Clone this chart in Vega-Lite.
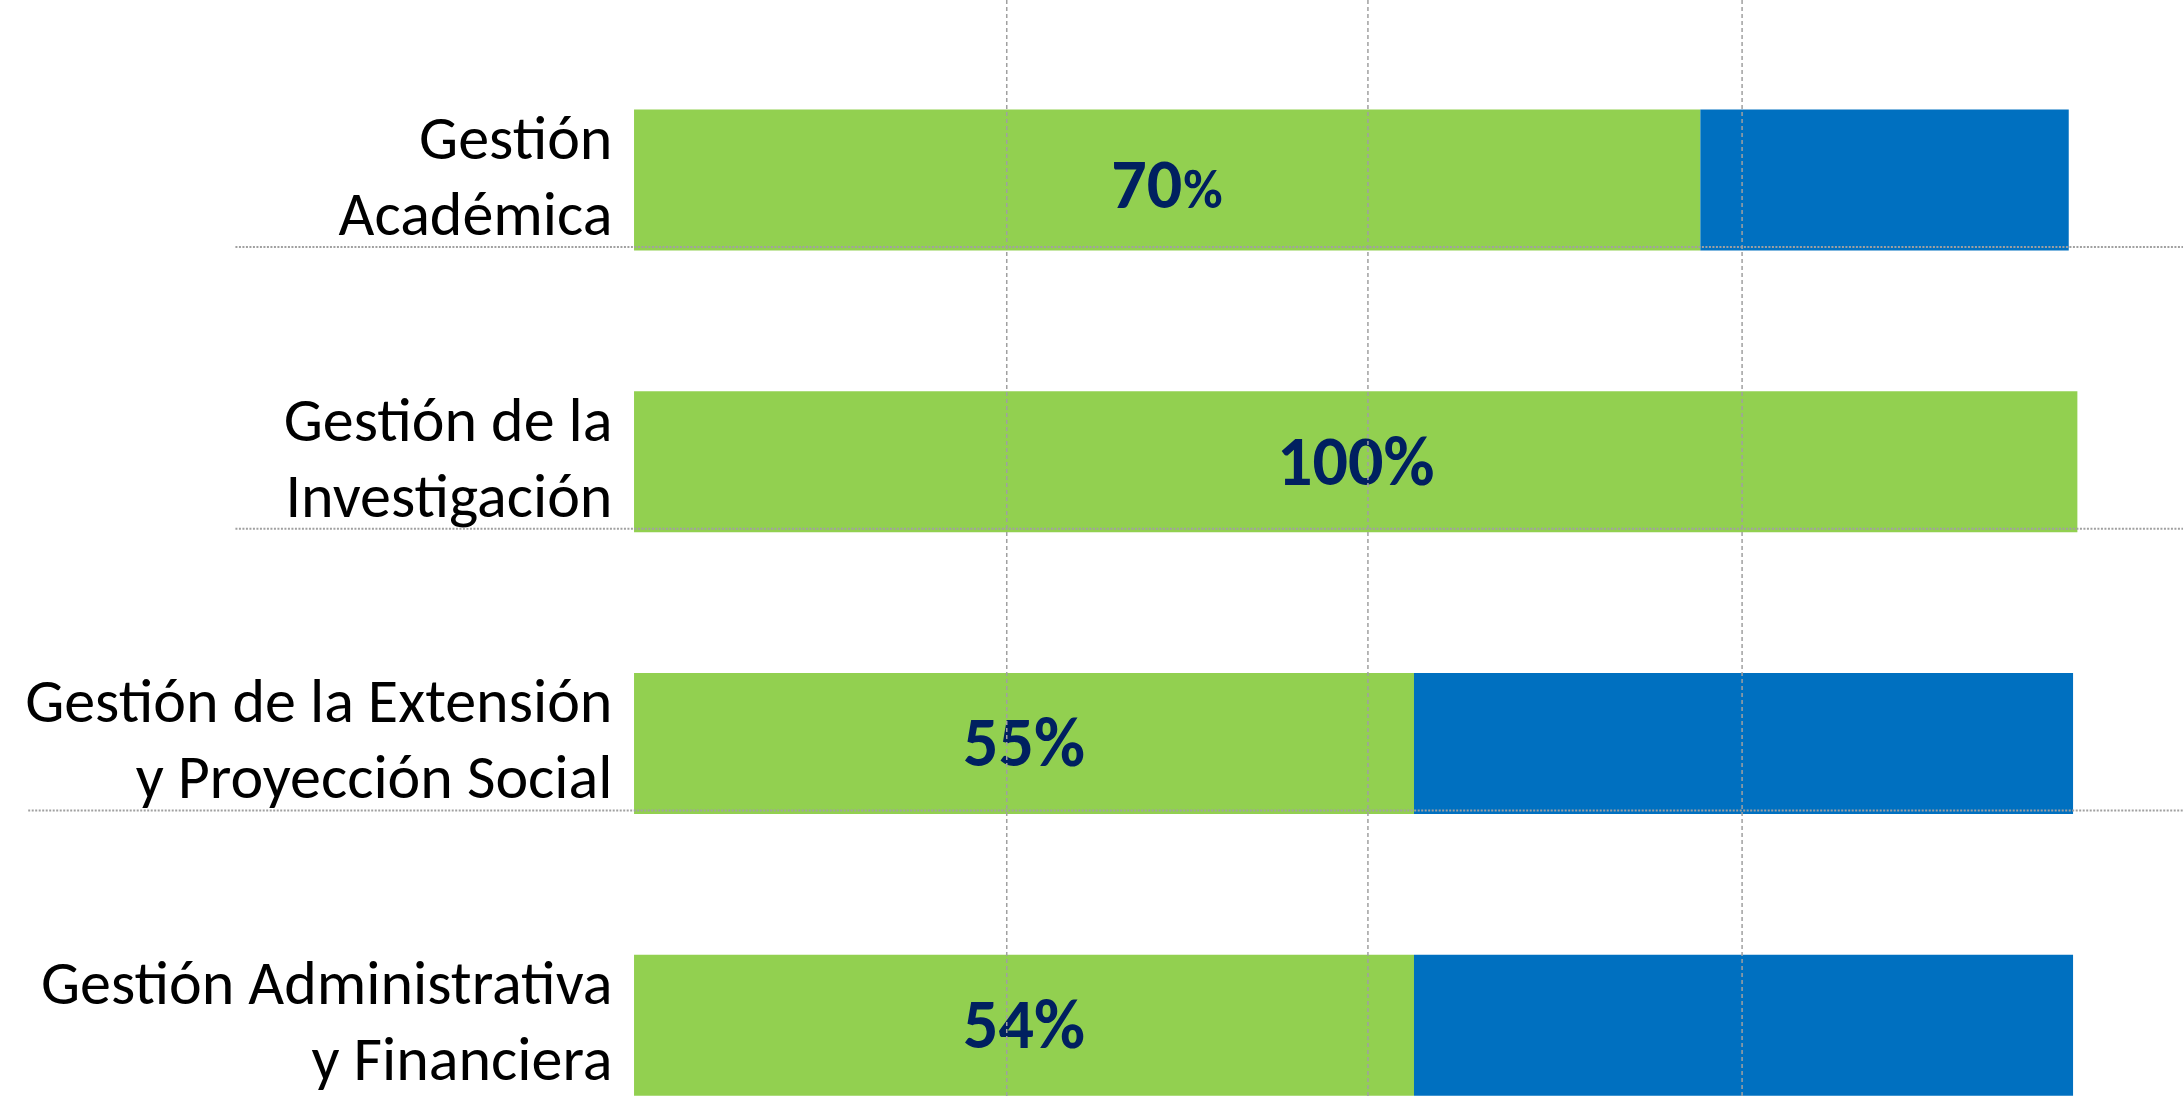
{
  "$schema": "https://vega.github.io/schema/vega-lite/v6.json",
  "width": 2183,
  "height": 1098,
  "padding": 0,
  "autosize": "none",
  "background": "white",
  "config": {"view": {"stroke": null}},
  "datasets": {
    "bars": [
      {"cat": "Gestión Académica", "estado": "Cumplido", "pct": 74.1},
      {"cat": "Gestión Académica", "estado": "Pendiente", "pct": 25.6},
      {"cat": "Gestión de la Investigación", "estado": "Cumplido", "pct": 100.3},
      {"cat": "Gestión de la Investigación", "estado": "Pendiente", "pct": 0},
      {"cat": "Gestión de la Extensión y Proyección Social", "estado": "Cumplido", "pct": 54.2},
      {"cat": "Gestión de la Extensión y Proyección Social", "estado": "Pendiente", "pct": 45.8},
      {"cat": "Gestión Administrativa y Financiera", "estado": "Cumplido", "pct": 54.2},
      {"cat": "Gestión Administrativa y Financiera", "estado": "Pendiente", "pct": 45.8}
    ],
    "rows": [
      {"cat": "Gestión Académica", "lines": ["Gestión", "Académica"], "label": "70%", "num": "70", "green": 74.1},
      {"cat": "Gestión de la Investigación", "lines": ["Gestión de la", "Investigación"], "label": "100%", "num": "100", "green": 100.3},
      {"cat": "Gestión de la Extensión y Proyección Social", "lines": ["Gestión de la Extensión", "y Proyección Social"], "label": "55%", "num": "55", "green": 54.2},
      {"cat": "Gestión Administrativa y Financiera", "lines": ["Gestión Administrativa", "y Financiera"], "label": "54%", "num": "54", "green": 54.2}
    ],
    "grid": [{"g": 25.9}, {"g": 51.0}, {"g": 77.0}],
    "seps": [
      {"cat": "Gestión Académica", "from": -27.7},
      {"cat": "Gestión de la Investigación", "from": -27.7},
      {"cat": "Gestión de la Extensión y Proyección Social", "from": -42.1}
    ]
  },
  "resolve": {"scale": {"x": "shared", "y": "shared"}},
  "layer": [
    {
      "data": {"name": "bars"},
      "mark": {"type": "bar", "orient": "horizontal"},
      "encoding": {
        "y": {"field": "cat", "type": "nominal", "axis": null, "sort": null,
              "scale": {"domain": ["Gestión Académica", "Gestión de la Investigación", "Gestión de la Extensión y Proyección Social", "Gestión Administrativa y Financiera"], "paddingInner": 0.4995, "paddingOuter": 0.1987, "align": 0.979}},
        "x": {"field": "pct", "type": "quantitative", "stack": "zero", "axis": null,
              "scale": {"domain": [-44.06, 107.64], "nice": false, "zero": false}},
        "color": {"field": "estado", "type": "nominal", "legend": null,
                  "scale": {"domain": ["Cumplido", "Pendiente"], "range": ["#92D050", "#0070C0"]}},
        "order": {"field": "estado", "sort": "ascending"}
      }
    },
    {
      "data": {"name": "rows"},
      "transform": [
        {"filter": "datum.label != '70%'"},
        {"stack": "green", "groupby": ["cat"], "as": ["g0", "g1"]},
        {"fold": ["g0", "g1"], "as": ["k", "v"]}
      ],
      "mark": {"type": "text", "align": "center", "baseline": "middle", "font": "Carlito, Lato", "fontWeight": "bold", "fontSize": 70, "color": "#002060", "dy": 2},
      "encoding": {
        "y": {"field": "cat", "type": "nominal"},
        "x": {"aggregate": "mean", "field": "v", "type": "quantitative"},
        "text": {"field": "label", "type": "nominal"}
      }
    },
    {
      "data": {"name": "rows"},
      "transform": [
        {"filter": "datum.label == '70%'"},
        {"stack": "green", "groupby": ["cat"], "as": ["g0", "g1"]},
        {"fold": ["g0", "g1"], "as": ["k", "v"]}
      ],
      "mark": {"type": "text", "align": "right", "baseline": "alphabetic", "font": "Carlito, Lato", "fontWeight": "bold", "fontSize": 70, "color": "#002060", "dx": 15, "dy": 28},
      "encoding": {
        "y": {"field": "cat", "type": "nominal"},
        "x": {"aggregate": "mean", "field": "v", "type": "quantitative"},
        "text": {"field": "num", "type": "nominal"}
      }
    },
    {
      "data": {"name": "rows"},
      "transform": [
        {"filter": "datum.label == '70%'"},
        {"stack": "green", "groupby": ["cat"], "as": ["g0", "g1"]},
        {"fold": ["g0", "g1"], "as": ["k", "v"]}
      ],
      "mark": {"type": "text", "align": "left", "baseline": "alphabetic", "font": "Carlito, Lato", "fontWeight": "bold", "fontSize": 54, "color": "#002060", "dx": 16, "dy": 28, "text": "%"},
      "encoding": {
        "y": {"field": "cat", "type": "nominal"},
        "x": {"aggregate": "mean", "field": "v", "type": "quantitative"}
      }
    },
    {
      "data": {"name": "rows"},
      "mark": {"type": "text", "align": "right", "baseline": "middle", "font": "Carlito, Lato", "fontSize": 62, "lineHeight": 76, "color": "#000000", "dy": -40},
      "encoding": {
        "y": {"field": "cat", "type": "nominal"},
        "x": {"datum": -1.5, "type": "quantitative"},
        "text": {"field": "lines", "type": "nominal"}
      }
    },
    {
      "data": {"name": "grid"},
      "mark": {"type": "rule", "color": "#A0A0A0", "strokeWidth": 1.5, "strokeDash": [4, 3]},
      "encoding": {
        "x": {"field": "g", "type": "quantitative"}
      }
    },
    {
      "data": {"name": "seps"},
      "mark": {"type": "rule", "color": "#A0A0A0", "strokeWidth": 2, "strokeDash": [2, 1.5]},
      "encoding": {
        "y": {"field": "cat", "type": "nominal", "bandPosition": 0.975},
        "x": {"field": "from", "type": "quantitative"},
        "x2": {"datum": 107.64}
      }
    }
  ]
}
